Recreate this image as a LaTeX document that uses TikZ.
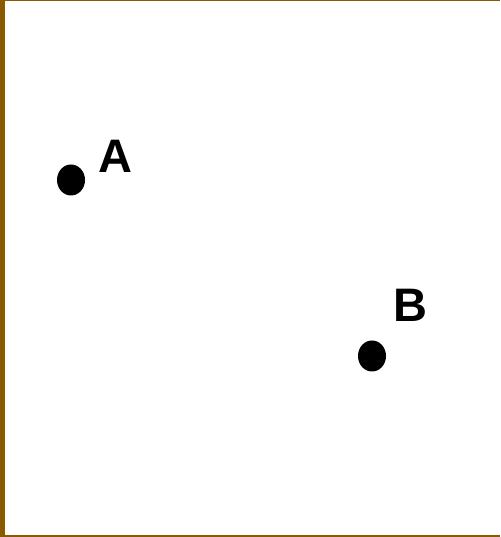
\documentclass[tikz,border=0pt]{standalone}
\usepackage{fontspec}
\setmainfont{Liberation Sans}
\usetikzlibrary{shapes.geometric}
\definecolor{frame}{HTML}{8A5A00}
\begin{document}
\begin{tikzpicture}[
  x=1pt, y=1pt,
  point/.style={ellipse, fill=black, inner sep=0pt, minimum width=28pt, minimum height=31pt},
  lbl/.style={font=\fontsize{47}{56}\selectfont\bfseries, inner sep=0pt}
]
  \useasboundingbox (0,0) rectangle (500,537);
  % frame
  \fill[frame] (0,0) rectangle (5,537);
  \fill[frame] (0,535.5) rectangle (500,537);
  \fill[frame] (0,0) rectangle (500,1.5);

  % points
  \node[point] (a) at (71,357) {};
  \node[point] (b) at (372,181) {};

  % labels
  \node[lbl] (la) at (115,381) {A};
  \node[lbl] (lb) at (410.5,232) {B};
\end{tikzpicture}
\end{document}
